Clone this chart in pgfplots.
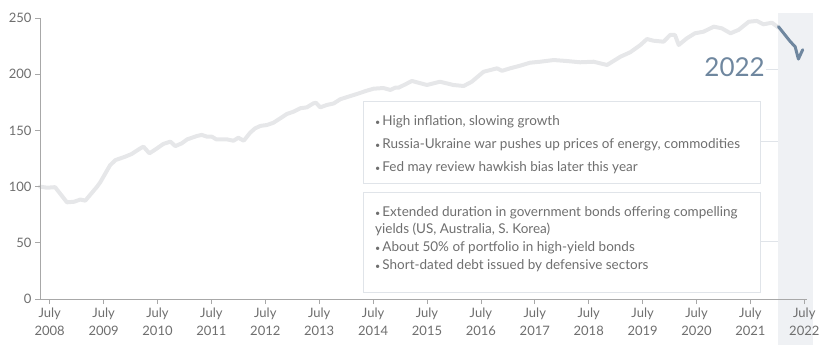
\documentclass[border=0pt]{standalone}
\usepackage{fontspec}
\setmainfont{Lato}
\usepackage{pgfplots}
\pgfplotsset{compat=1.18}
\definecolor{linegray}{HTML}{E6E7E9}
\definecolor{blueline}{HTML}{6F879F}
\definecolor{txt}{HTML}{6E6E6E}
\definecolor{axisgray}{HTML}{A8A8A8}
\definecolor{boxborder}{HTML}{E0E4E9}
\definecolor{shadecol}{HTML}{EFF1F4}
\newcommand{\bul}{{\fontsize{9}{9}\selectfont •}\hspace{2pt}}
\begin{document}
\begin{tikzpicture}
\useasboundingbox (-40pt,-62pt) rectangle (797pt,299pt);
\begin{axis}[
  at={(0pt,0pt)}, anchor=south west,
  scale only axis, width=767pt, height=281pt,
  xmin=2008.32, xmax=2022.55, ymin=0, ymax=250,
  axis x line*=bottom, axis y line*=left,
  axis line style={-, draw=axisgray, line width=0.8pt},
  clip=false, axis on top,
  tick align=outside, major tick length=5pt,
  tick style={draw=axisgray, line width=0.8pt},
  xtick={2008.5,2009.5,2010.5,2011.5,2012.5,2013.5,2014.5,2015.5,2016.5,2017.5,2018.5,2019.5,2020.5,2021.5,2022.5},
  xticklabels={{July\\2008},{July\\2009},{July\\2010},{July\\2011},{July\\2012},{July\\2013},{July\\2014},{July\\2015},{July\\2016},{July\\2017},{July\\2018},{July\\2019},{July\\2020},{July\\2021},{July\\2022}},
  xticklabel style={align=center, font=\fontsize{13}{18.5}\selectfont, text=txt},
  ytick={0,50,100,150,200,250},
  yticklabel style={font=\fontsize{13}{15}\selectfont, text=txt, /pgf/number format/assume math mode=true},
]
\fill[fill=shadecol] (axis cs:2022.02,-41) rectangle (axis cs:2022.66,254.5);
\addplot[linegray, line width=4pt, line join=round, line cap=round] table {
2008.32 100
2008.45 99
2008.60 99.5
2008.82 86
2008.95 86.5
2009.07 88.5
2009.16 87.5
2009.38 100
2009.44 104
2009.62 119
2009.72 123.6
2009.90 126.6
2010.02 129
2010.18 134
2010.24 135.5
2010.35 129.6
2010.46 133
2010.61 138
2010.74 140
2010.83 136
2010.95 138.5
2011.05 142
2011.23 145
2011.32 146
2011.42 144.4
2011.51 144.4
2011.59 142
2011.79 142
2011.91 140.8
2012.00 143.5
2012.10 140.8
2012.22 148
2012.31 151.8
2012.41 154
2012.53 154.8
2012.65 156.8
2012.78 160.8
2012.90 164.6
2013.02 166.6
2013.15 169.7
2013.27 170.5
2013.39 174
2013.44 174.6
2013.52 170.5
2013.64 172.6
2013.77 174
2013.89 177.7
2014.04 180
2014.20 182.4
2014.38 185.3
2014.51 187.1
2014.69 187.7
2014.82 186
2014.91 188
2014.97 188
2015.10 191
2015.22 194
2015.31 192.8
2015.50 190.4
2015.74 193.3
2015.99 190.4
2016.18 189.5
2016.33 193.3
2016.55 202.2
2016.80 205.2
2016.89 203
2017.04 205.2
2017.23 207.6
2017.41 210.2
2017.60 211.1
2017.85 212.6
2018.10 211.7
2018.34 210.6
2018.59 211.1
2018.84 208.2
2019.09 215.6
2019.27 219.5
2019.46 226
2019.58 231.3
2019.70 229.8
2019.89 228.9
2020.01 234.9
2020.10 234.9
2020.17 226
2020.32 231.9
2020.47 236.4
2020.63 237.8
2020.82 242.3
2020.97 240.8
2021.13 236.4
2021.28 239.4
2021.47 246.7
2021.62 247.4
2021.74 244.4
2021.90 245.8
2022.02 241.5
};
\addplot[blueline, line width=3pt, line join=round, line cap=round] table {
2022.02 242.3
2022.24 229
2022.33 224.5
2022.39 213.5
2022.47 221.8
};
\end{axis}
% boxes and annotations (1pt = 1px, origin at axis lower-left)
\draw[boxborder, line width=0.8pt] (323pt,116pt) rectangle (720pt,198pt);
\draw[boxborder, line width=0.8pt] (323pt,7pt) rectangle (720pt,107pt);
\draw[boxborder, line width=0.8pt] (720pt,158pt) -- (738pt,158pt);
\draw[boxborder, line width=0.8pt] (720pt,58pt) -- (738pt,58pt);
\draw[boxborder, line width=0.8pt] (726pt,230pt) -- (738pt,230pt);
\node[anchor=base east, inner sep=0pt, text=blueline, font=\fontsize{26}{28}\selectfont] at (725pt,222pt) {2022};
\begin{scope}[every node/.style={anchor=base west, inner sep=0pt, text=txt, font=\fontsize{13.5}{16}\selectfont}]
\node at (335pt,173pt) {\bul High inflation, slowing growth};
\node at (335pt,150pt) {\bul Russia-Ukraine war pushes up prices of energy, commodities};
\node at (335pt,127pt) {\bul Fed may review hawkish bias later this year};
\node at (335pt,82pt) {\bul Extended duration in government bonds offering compelling};
\node at (335pt,65pt) {yields (US, Australia, S. Korea)};
\node at (335pt,47pt) {\bul About 50\% of portfolio in high-yield bonds};
\node at (335pt,29pt) {\bul Short-dated debt issued by defensive sectors};
\end{scope}
\end{tikzpicture}
\end{document}
